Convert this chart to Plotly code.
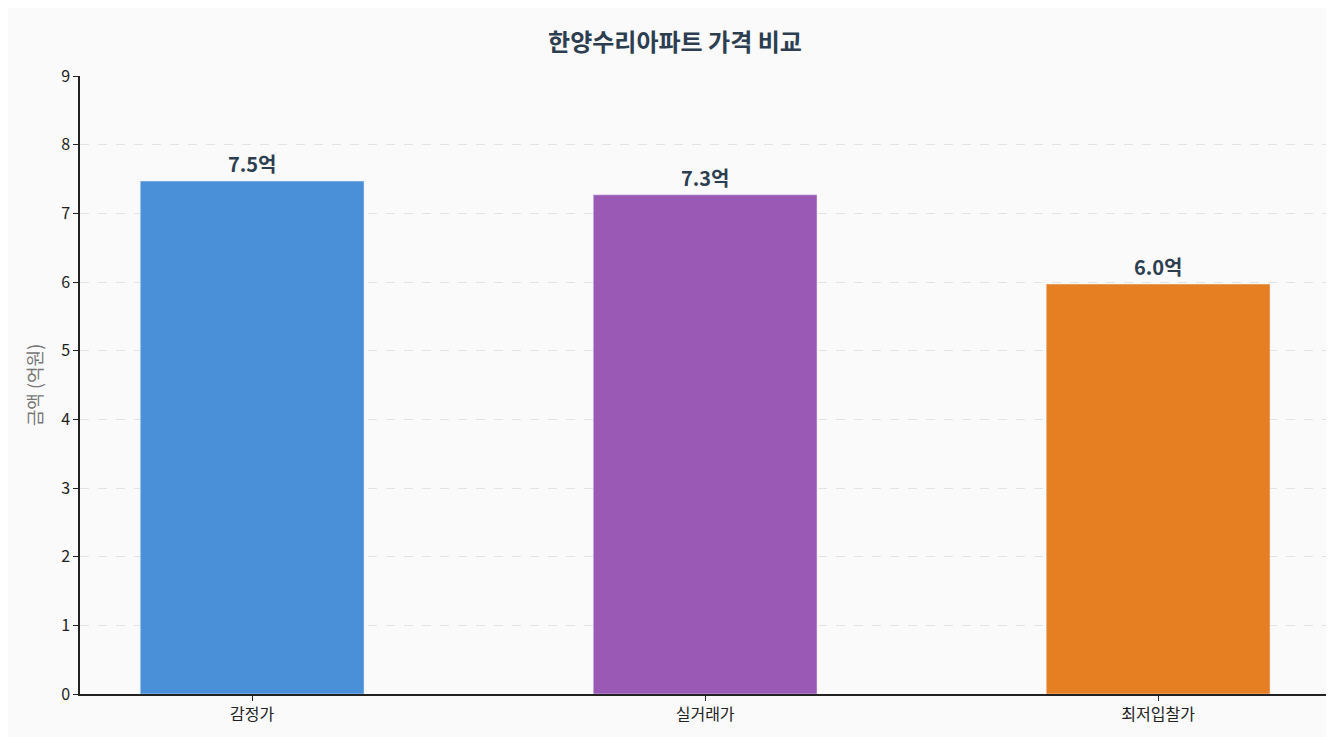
import plotly.graph_objects as go

categories = ["감정가", "실거래가", "최저입찰가"]
values = [7.47, 7.27, 5.97]
labels = ["7.5억", "7.3억", "6.0억"]
colors = ["#4a90d9", "#9b59b6", "#e67e22"]

fig = go.Figure(go.Bar(
    x=categories, y=values, marker_color=colors, width=0.494,
    text=labels, textposition="outside", cliponaxis=False,
    textfont=dict(size=20, color="#2c3e50", family="Noto Sans CJK KR", weight="bold"),
))
fig.update_layout(
    width=1334, height=737,
    paper_bgcolor="#fafafa", plot_bgcolor="#fafafa",
    margin=dict(l=72, r=14, t=68, b=51),
    font=dict(family="Noto Sans CJK KR", size=16, color="#222"),
    title=dict(text="<b>한양수리아파트 가격 비교</b>", x=0.5, xanchor="center", y=0.965,
               font=dict(size=24, color="#2c3e50")),
    showlegend=False,
)
fig.update_xaxes(range=[-0.38, 2.375], showline=True, linecolor="#222", linewidth=1.5,
                 ticks="outside", ticklen=5, tickcolor="#222", showgrid=False)
fig.update_yaxes(range=[0, 9], dtick=1, showline=True, linecolor="#222", linewidth=1.5,
                 ticks="outside", ticklen=5, tickcolor="#222",
                 showgrid=True, gridcolor="#e3e3e3", griddash="dash", zeroline=False,
                 title=dict(text="금액 (억원)", font=dict(size=18, color="#777"), standoff=14))
fig.write_html("out.html")
